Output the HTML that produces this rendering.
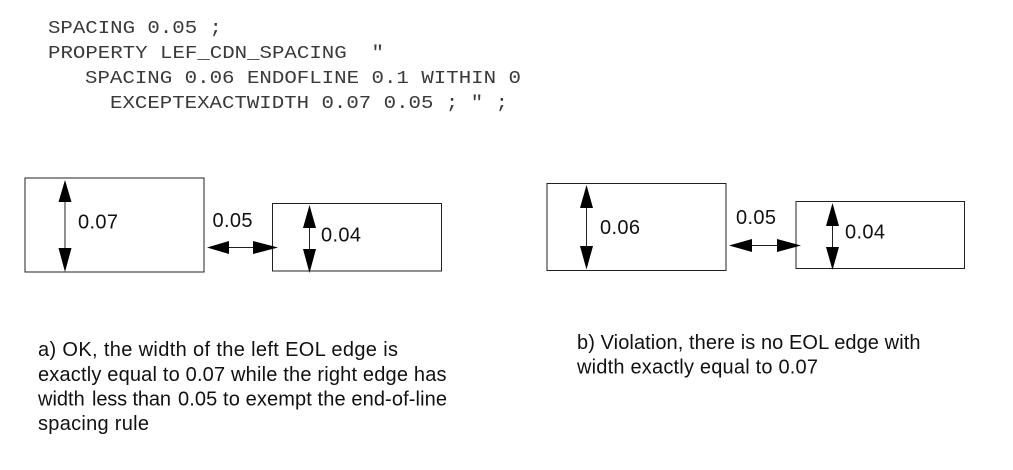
<!DOCTYPE html>
<html>
<head>
<meta charset="utf-8">
<style>
html,body{margin:0;padding:0;background:#fff;}
svg{display:block;}
.m{font-family:"Liberation Mono",monospace;font-size:18px;fill:#3a3a3a;}
.s{font-family:"Liberation Sans",sans-serif;font-size:20px;fill:#111;}
.l{font-family:"Liberation Sans",sans-serif;font-size:20px;fill:#111;}
</style>
</head>
<body>
<svg width="1013" height="470" viewBox="0 0 1013 470" xmlns="http://www.w3.org/2000/svg">
<rect width="1013" height="470" fill="#fff"/>
<text class="m" x="48" y="33" textLength="174" lengthAdjust="spacingAndGlyphs">SPACING 0.05 ;</text>
<text class="m" x="48" y="58" textLength="336" lengthAdjust="spacingAndGlyphs" xml:space="preserve">PROPERTY LEF_CDN_SPACING  "</text>
<text class="m" x="85" y="83" textLength="436" lengthAdjust="spacingAndGlyphs">SPACING 0.06 ENDOFLINE 0.1 WITHIN 0</text>
<text class="m" x="110" y="108" textLength="398" lengthAdjust="spacingAndGlyphs">EXCEPTEXACTWIDTH 0.07 0.05 ; " ;</text>

<g fill="none" stroke="#222" stroke-width="1">
<rect x="25" y="178" width="179" height="94"/>
<rect x="272.5" y="203.5" width="169" height="67.5"/>
<rect x="547" y="183.5" width="179" height="87"/>
<rect x="796" y="201.5" width="168.5" height="67"/>
<line x1="65" y1="200" x2="65" y2="250"/>
<line x1="309.5" y1="226" x2="309.5" y2="251"/>
<line x1="227" y1="247.5" x2="255" y2="247.5"/>
<line x1="586.5" y1="206" x2="586.5" y2="248"/>
<line x1="750" y1="245.5" x2="779" y2="245.5"/>
<line x1="832.5" y1="224" x2="832.5" y2="249"/>
</g>
<g fill="#000">
<polygon points="65,180 58.5,202 71.5,202"/>
<polygon points="65,272 58.5,248 71.5,248"/>
<polygon points="309.5,205 303,228 316,228"/>
<polygon points="309.5,273 303,249 316,249"/>
<polygon points="207,247.5 229,241 229,254"/>
<polygon points="278,247.5 253,241 253,254"/>
<polygon points="586.5,185 580,208 593,208"/>
<polygon points="586.5,269.5 580,246 593,246"/>
<polygon points="729,245.5 752,239 752,252"/>
<polygon points="801,245.5 777,239 777,252"/>
<polygon points="832.5,203 826,226 839,226"/>
<polygon points="832.5,270 826,247 839,247"/>
</g>

<text class="l" x="78" y="228.5" textLength="40">0.07</text>
<text class="l" x="212.5" y="227" textLength="40">0.05</text>
<text class="l" x="321" y="241.5" textLength="40">0.04</text>
<text class="l" x="600" y="234" textLength="40">0.06</text>
<text class="l" x="736" y="224" textLength="40">0.05</text>
<text class="l" x="845" y="238.5" textLength="40">0.04</text>

<text class="s" x="38" y="356" textLength="360">a) OK, the width of the left EOL edge is</text>
<text class="s" x="38" y="381" textLength="408.5">exactly equal to 0.07 while the right edge has</text>
<text class="s" x="38" y="405.5">width</text>
<text class="s" x="92" y="405.5" textLength="79">less than</text>
<text class="s" x="178" y="405.5" textLength="269">0.05 to exempt the end-of-line</text>
<text class="s" x="38" y="430" textLength="111">spacing rule</text>
<text class="s" x="577" y="349" textLength="343.5">b) Violation, there is no EOL edge with</text>
<text class="s" x="577" y="373.5" textLength="241">width exactly equal to 0.07</text>
</svg>
</body>
</html>
